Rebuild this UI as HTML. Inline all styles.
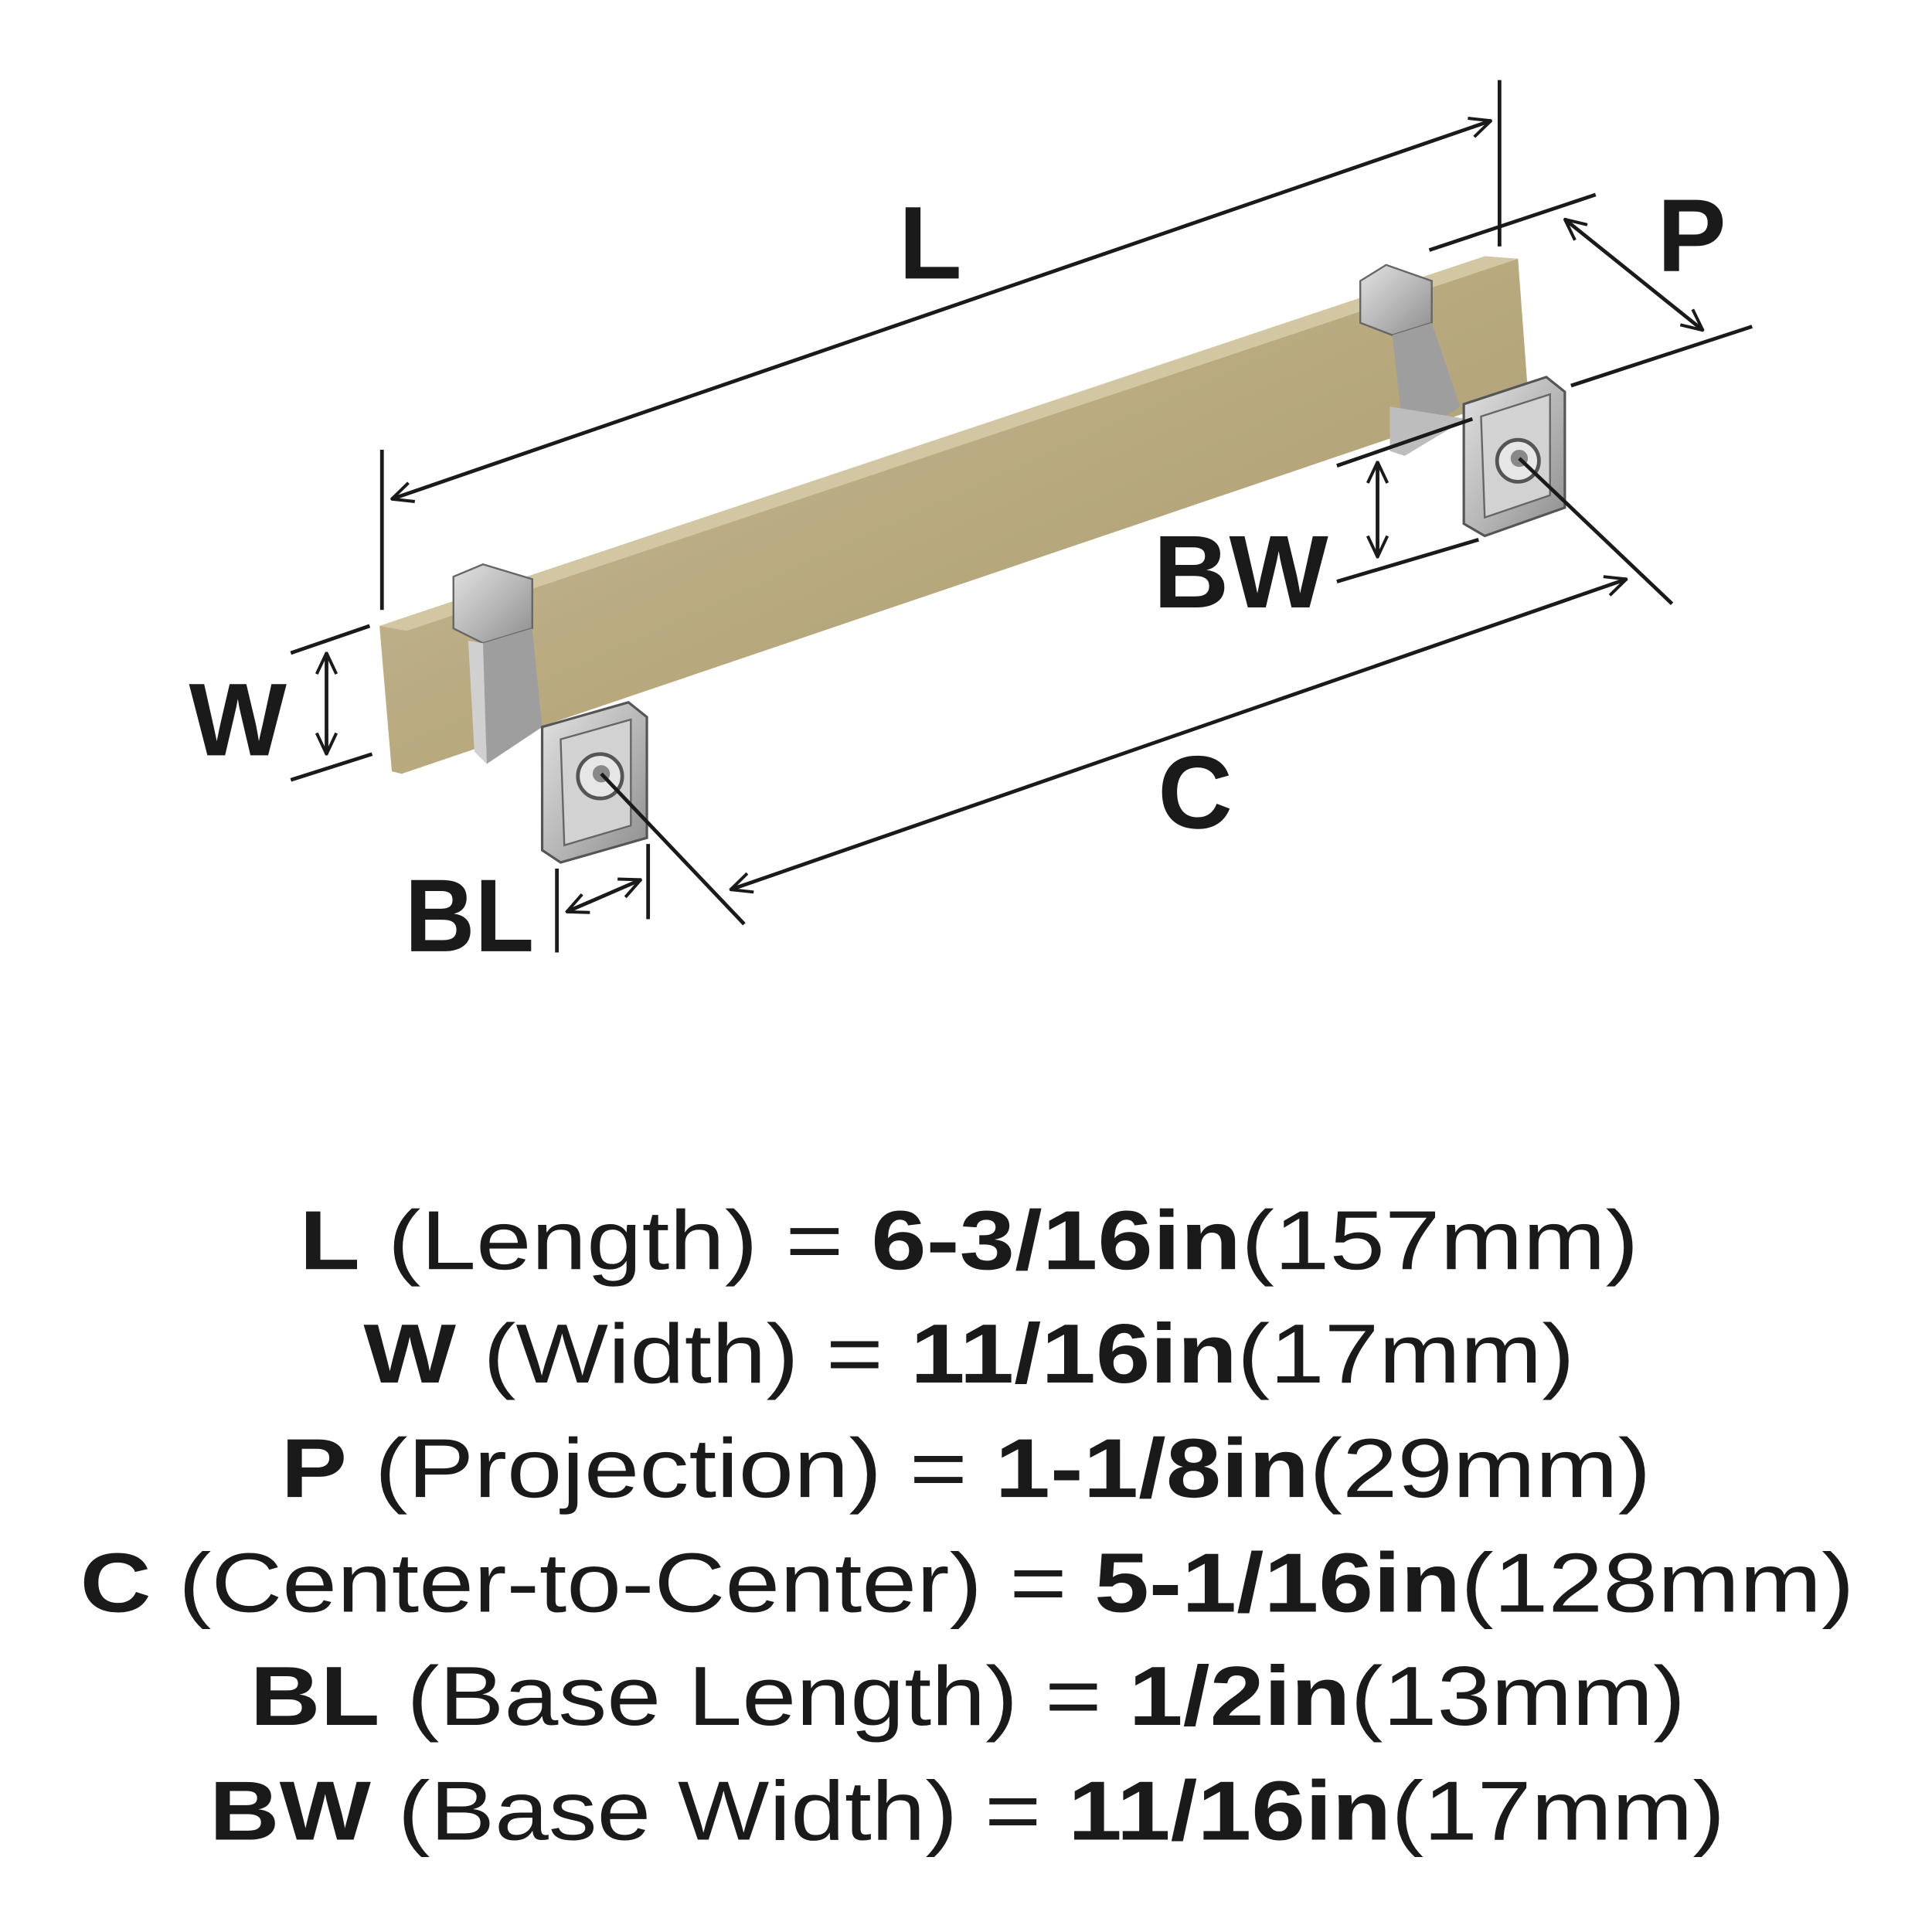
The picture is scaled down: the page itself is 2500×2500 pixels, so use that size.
<!DOCTYPE html>
<html><head><meta charset="utf-8"><style>
html,body{margin:0;padding:0;background:#fff;}
svg{display:block}
</style></head><body>
<svg width="2500" height="2500" viewBox="0 0 1568 1568" xmlns="http://www.w3.org/2000/svg">
<defs>
<linearGradient id="gold" x1="0" y1="0" x2="1" y2="1">
<stop offset="0" stop-color="#c9bd98"/><stop offset="0.5" stop-color="#b8a97f"/><stop offset="1" stop-color="#a99a70"/></linearGradient>
<linearGradient id="steel" x1="0" y1="0" x2="1" y2="1">
<stop offset="0" stop-color="#e2e2e2"/><stop offset="0.5" stop-color="#b9b9b9"/><stop offset="1" stop-color="#8e8e8e"/></linearGradient>
<marker id="ar" viewBox="0 0 20 20" refX="19" refY="10" markerWidth="20" markerHeight="20" markerUnits="userSpaceOnUse" orient="auto-start-reverse">
<path d="M2,2 L19,10 L2,18" fill="none" stroke="#1a1a1a" stroke-width="2.5"/></marker>
</defs>
<polygon points="308,508 1205,208 1232,210 1240,318 326,628 318,626" fill="url(#gold)"/>
<polygon points="308,508 1205,208 1232,210 330,512" fill="#d3c7a3"/>
<polygon points="368,468 392,458 432,470 432,510 392,522 368,510" fill="url(#steel)" stroke="#666" stroke-width="1.5"/>
<polygon points="392,522 432,510 440,590 395,620" fill="#9e9e9e"/>
<polygon points="380,520 392,522 395,620 385,610" fill="#d0d0d0"/>
<polygon points="440,590 510,570 525,582 525,680 455,700 440,690" fill="url(#steel)" stroke="#555" stroke-width="2"/>
<polygon points="455,600 512,584 512,670 458,686" fill="#d2d2d2" stroke="#666" stroke-width="1.5"/>
<circle cx="487" cy="630" r="18" fill="#e6e6e6" stroke="#555" stroke-width="3"/>
<circle cx="488" cy="628" r="7" fill="#888"/>
<polygon points="1104,228 1125,215 1162,228 1162,262 1130,272 1104,262" fill="url(#steel)" stroke="#666" stroke-width="1.5"/>
<polygon points="1130,272 1162,262 1185,330 1140,360" fill="#9e9e9e"/>
<polygon points="1128,330 1190,340 1140,370 1128,366" fill="#bdbdbd"/>
<polygon points="1188,328 1255,306 1270,318 1270,412 1205,435 1188,425" fill="url(#steel)" stroke="#555" stroke-width="2"/>
<polygon points="1202,338 1258,320 1258,402 1205,420" fill="#d2d2d2" stroke="#666" stroke-width="1.5"/>
<circle cx="1232" cy="374" r="17" fill="#e6e6e6" stroke="#555" stroke-width="3"/>
<circle cx="1233" cy="372" r="7" fill="#888"/>
<g stroke="#1a1a1a" stroke-width="3" fill="none">
<line x1="310" y1="365" x2="310" y2="495"/><line x1="1217" y1="65" x2="1217" y2="200"/>
<line x1="318" y1="405" x2="1210" y2="98" marker-start="url(#ar)" marker-end="url(#ar)"/>
<line x1="1160" y1="203" x2="1295" y2="158"/><line x1="1275" y1="313" x2="1422" y2="265"/>
<line x1="1270" y1="178" x2="1382" y2="268" marker-start="url(#ar)" marker-end="url(#ar)"/>
<line x1="236" y1="530" x2="300" y2="508"/><line x1="236" y1="633" x2="302" y2="612"/>
<line x1="265" y1="530" x2="265" y2="612" marker-start="url(#ar)" marker-end="url(#ar)"/>
<line x1="1085" y1="378" x2="1195" y2="340"/><line x1="1085" y1="472" x2="1200" y2="438"/>
<line x1="1118" y1="375" x2="1118" y2="452" marker-start="url(#ar)" marker-end="url(#ar)"/>
<line x1="593" y1="722" x2="1320" y2="470" marker-start="url(#ar)" marker-end="url(#ar)"/>
<line x1="488" y1="628" x2="604" y2="750"/><line x1="1233" y1="372" x2="1357" y2="490"/>
<line x1="452" y1="705" x2="452" y2="773"/><line x1="526" y1="685" x2="526" y2="746"/>
<line x1="460" y1="740" x2="520" y2="714" marker-start="url(#ar)" marker-end="url(#ar)"/>
</g>
<g font-family="Liberation Sans, sans-serif" font-weight="bold" fill="#1a1a1a" font-size="84">
<text x="755" y="226" text-anchor="middle">L</text>
<text x="1373" y="220" text-anchor="middle">P</text>
<text x="193" y="613" text-anchor="middle">W</text>
<text x="1007" y="493" text-anchor="middle" textLength="142" lengthAdjust="spacingAndGlyphs">BW</text>
<text x="970" y="672" text-anchor="middle">C</text>
<text x="381" y="772" text-anchor="middle" textLength="105" lengthAdjust="spacingAndGlyphs">BL</text>
</g>
<g font-family="Liberation Sans, sans-serif" font-size="68" fill="#1a1a1a">
<text x="243" y="1030" textLength="1087" lengthAdjust="spacingAndGlyphs"><tspan font-weight="bold">L</tspan> (Length) = <tspan font-weight="bold">6-3/16in</tspan>(157mm)</text>
<text x="295" y="1122" textLength="983" lengthAdjust="spacingAndGlyphs"><tspan font-weight="bold">W</tspan> (Width) = <tspan font-weight="bold">11/16in</tspan>(17mm)</text>
<text x="228" y="1215" textLength="1112" lengthAdjust="spacingAndGlyphs"><tspan font-weight="bold">P</tspan> (Projection) = <tspan font-weight="bold">1-1/8in</tspan>(29mm)</text>
<text x="65" y="1308" textLength="1440" lengthAdjust="spacingAndGlyphs"><tspan font-weight="bold">C</tspan> (Center-to-Center) = <tspan font-weight="bold">5-1/16in</tspan>(128mm)</text>
<text x="203" y="1400" textLength="1165" lengthAdjust="spacingAndGlyphs"><tspan font-weight="bold">BL</tspan> (Base Length) = <tspan font-weight="bold">1/2in</tspan>(13mm)</text>
<text x="170" y="1493" textLength="1230" lengthAdjust="spacingAndGlyphs"><tspan font-weight="bold">BW</tspan> (Base Width) = <tspan font-weight="bold">11/16in</tspan>(17mm)</text>
</g>
</svg>
</body></html>
